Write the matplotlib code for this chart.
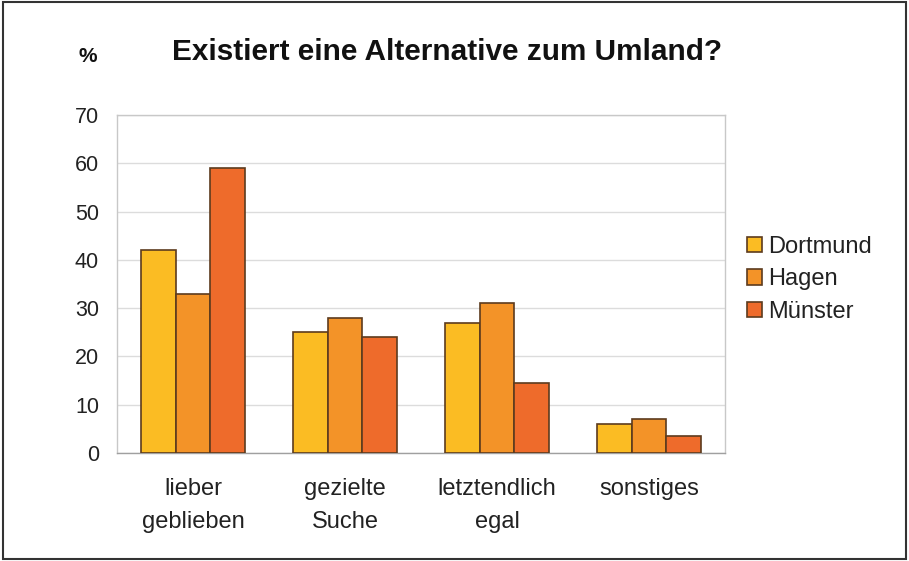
import numpy as np
import matplotlib.pyplot as plt
from matplotlib.patches import Rectangle

categories = ['lieber\ngeblieben', 'gezielte\nSuche', 'letztendlich\negal', 'sonstiges']
cities = ['Dortmund', 'Hagen', 'Münster']
dortmund = [42, 25, 27, 6]
hagen = [33, 28, 31, 7]
muenster = [59, 24, 14.5, 3.5]
y_ticks = [0, 10, 20, 30, 40, 50, 60, 70]

colors = ['#FBBC23', '#F39328', '#EE6B2B']
edge = '#5C3B1E'

plt.rcParams['font.family'] = ['Liberation Sans', 'DejaVu Sans']

fig = plt.figure(figsize=(9.09, 5.61), dpi=100)
ax = fig.add_axes([0.1287, 0.1925, 0.669, 0.6025])

x = np.arange(len(categories))
w = 0.227
for i, (vals, name) in enumerate(zip([dortmund, hagen, muenster], cities)):
    ax.bar(x + (i - 1) * w, vals, w, color=colors[i], edgecolor=edge,
           linewidth=1.2, label=name, zorder=3)

ax.set_xlim(-0.5, len(categories) - 0.5)
ax.set_ylim(0, 70)
ax.set_yticks(y_ticks)
ax.yaxis.grid(True, color='#dcdcdc', linewidth=1, zorder=0)
ax.set_xticks(x)
ax.set_xticklabels(categories, fontsize=17, linespacing=1.65, color='#222222')
ax.tick_params(axis='y', labelsize=15.5, length=0, pad=13, colors='#222222')
ax.tick_params(axis='x', length=0, pad=18)
for s in ax.spines.values():
    s.set_color('#c8c8c8')
    s.set_linewidth(1)
ax.spines['bottom'].set_color('#a0a0a0')

fig.text(0.492, 0.907, 'Existiert eine Alternative zum Umland?', ha='center',
         va='center', fontsize=21.4, fontweight='bold', color='#111111')
fig.text(0.097, 0.9, '%', ha='center', va='center', fontsize=15,
         fontweight='bold', color='#111111')

leg = ax.legend(loc='center left', bbox_to_anchor=(1.036, 0.514), frameon=False,
                fontsize=17, handlelength=0.64, handleheight=0.64,
                handletextpad=0.25, labelspacing=0.45, borderaxespad=0,
                borderpad=0)
for t in leg.get_texts():
    t.set_color('#222222')

fig.patches.append(Rectangle((0.003, 0.004), 0.994, 0.992, transform=fig.transFigure,
                             fill=False, edgecolor='#333333', linewidth=1.5))

fig.savefig('out.png', dpi=100)
